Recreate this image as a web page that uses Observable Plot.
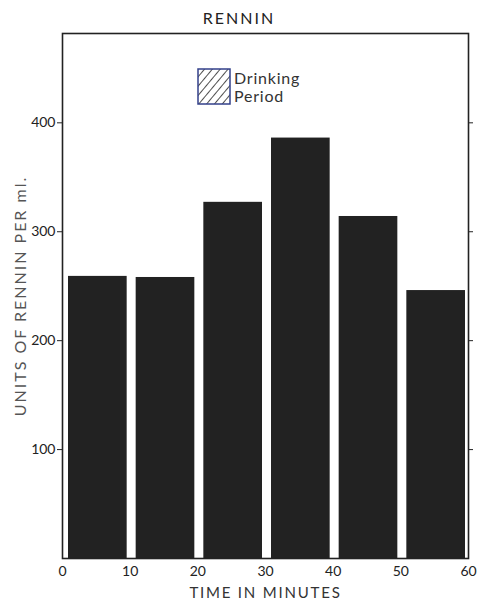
<!DOCTYPE html>
<html>
<head>
<meta charset="utf-8">
<script src="https://cdn.jsdelivr.net/npm/d3@7"></script>
<script src="https://cdn.jsdelivr.net/npm/@observablehq/plot@0.6"></script>
<style>
  html, body { margin: 0; padding: 0; background: #fff; }
  body { width: 478px; height: 601px; position: relative; font-family: Lato, "Open Sans", sans-serif; color: #222; }
  #title { height: 30px; text-align: center; font-size: 16px; letter-spacing: 2px; line-height: 36px; padding-left: 0px; box-sizing: border-box; }
  #legend { position: absolute; left: 197px; top: 68px; display: flex; align-items: center; }
  #legend .lab { font-size: 16px; line-height: 18px; margin-left: 3px; letter-spacing: 0.8px; color: #333; }
  #chart svg { display: block; }
</style>
</head>
<body>
<div id="title">RENNIN</div>
<div id="chart"></div>
<div id="legend">
  <svg width="34" height="37" viewBox="0 0 34 37">
    <defs>
      <pattern id="hatch" patternUnits="userSpaceOnUse" width="6" height="6" patternTransform="rotate(40)">
        <line x1="0" y1="0" x2="0" y2="6" stroke="#222" stroke-width="1.6"/>
      </pattern>
    </defs>
    <rect x="1" y="1" width="32" height="35" fill="url(#hatch)" stroke="#33408a" stroke-width="1.5"/>
  </svg>
  <div class="lab">Drinking<br>Period</div>
</div>
<script>
const starts = [0, 10, 20, 30, 40, 50];
const ends = [10, 20, 30, 40, 50, 60];
const rennin = [259, 258, 327, 386, 314, 246];
const xTicks = [0, 10, 20, 30, 40, 50, 60];
const yTicks = [100, 200, 300, 400];

const data = starts.map((s, i) => ({start: s, end: ends[i], value: rennin[i]}));

const chart = Plot.plot({
  width: 478,
  height: 571,
  marginTop: 3,
  marginBottom: 43,
  marginLeft: 62,
  marginRight: 10,
  style: {fontFamily: "Lato, 'Open Sans', sans-serif", fontSize: "14px", color: "#222"},
  x: {domain: [0, 60]},
  y: {domain: [0, 482]},
  marks: [
    Plot.rectY(data, {x1: "start", x2: "end", y: "value", insetLeft: 6, insetRight: 3, fill: "#222"}),
    Plot.frame({stroke: "#222", strokeWidth: 1.6}),
    Plot.axisX({ticks: xTicks, tickSize: 0, tickPadding: 8, fontSize: 14, label: "TIME IN MINUTES", labelAnchor: "center", labelOffset: 39, labelArrow: "none"}),
    Plot.axisY({ticks: yTicks, tickSize: 5, tickPadding: 2, fontSize: 14, label: "UNITS OF RENNIN PER ml.", labelAnchor: "center", labelOffset: 48, labelArrow: "none"}),
    Plot.axisY({ticks: yTicks, anchor: "right", tickSize: 4, tickFormat: () => "", label: null})
  ]
});
document.getElementById("chart").appendChild(chart);
chart.querySelectorAll("[aria-label='y-axis label'] text").forEach(t => {
  t.setAttribute("letter-spacing", "2");
  t.setAttribute("font-size", "16");
  t.setAttribute("fill", "#555");
});
chart.querySelectorAll("[aria-label='x-axis label'] text").forEach(t => {
  t.setAttribute("letter-spacing", "1.8");
  t.setAttribute("font-size", "15");
  t.setAttribute("fill", "#333");
});
</script>
</body>
</html>
